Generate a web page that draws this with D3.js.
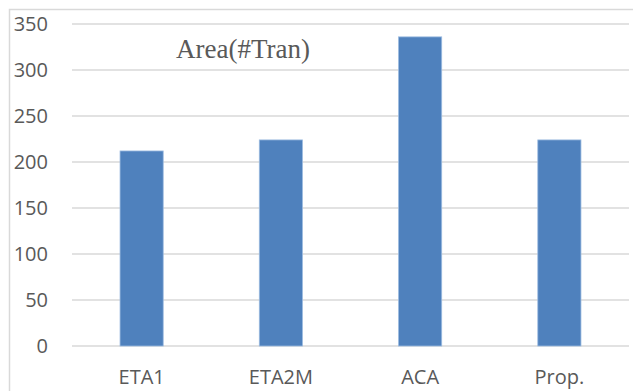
<!DOCTYPE html>
<html>
<head>
<meta charset="utf-8">
<script src="https://cdn.jsdelivr.net/npm/d3@7"></script>
<style>
  body { margin: 0; background: #fff; }
  #display { width: 633px; height: 391px; }
</style>
</head>
<body>
<div id="display"></div>
<script>
var categories = ["ETA1", "ETA2M", "ACA", "Prop."]
var values = [212, 224, 336, 224]
var yTicks = [0, 50, 100, 150, 200, 250, 300, 350]
var title = "Area(#Tran)"

var width = 633, height = 391;
var margin = {left: 72, right: 4, top: 24, bottom: 45};

var svg = d3.select("#display")
    .append("svg")
    .attr("width", width)
    .attr("height", height);

// outer chart frame (cut off at right/bottom)
svg.append("path")
    .attr("d", "M9.5," + (height + 5) + "V9.5H" + (width + 5))
    .attr("fill", "none")
    .attr("stroke", "#d9d9d9")
    .attr("stroke-width", 1.5);

var x = d3.scaleBand()
    .domain(categories)
    .range([margin.left, width - margin.right])
    .paddingInner(0.69)
    .paddingOuter(0.345);

var y = d3.scaleLinear()
    .domain([0, 350])
    .range([height - margin.bottom, margin.top]);

// gridlines
svg.append("g")
    .selectAll("line")
    .data(yTicks)
    .join("line")
      .attr("x1", margin.left)
      .attr("x2", width - margin.right)
      .attr("y1", d => y(d))
      .attr("y2", d => y(d))
      .attr("stroke", "#d9d9d9")
      .attr("stroke-width", 1.5);

// bars
svg.append("g")
    .selectAll("rect")
    .data(values)
    .join("rect")
      .attr("x", (d, i) => x(categories[i]))
      .attr("y", d => y(d))
      .attr("width", x.bandwidth())
      .attr("height", d => y(0) - y(d))
      .attr("fill", "#4f81bd")
      .attr("stroke", "#9bbbe0")
      .attr("stroke-width", 0.8);

// y tick labels
svg.append("g")
    .attr("fill", "#595959")
    .attr("text-anchor", "end")
    .style("font", "20px 'Open Sans'")
    .selectAll("text")
    .data(yTicks)
    .join("text")
      .attr("x", 48)
      .attr("y", d => y(d))
      .attr("dy", "0.35em")
      .text(d => d);

// x labels
svg.append("g")
    .attr("fill", "#595959")
    .attr("text-anchor", "middle")
    .style("font", "20px 'Open Sans'")
    .selectAll("text")
    .data(categories)
    .join("text")
      .attr("x", d => x(d) + x.bandwidth() / 2)
      .attr("y", 384)
      .text(d => d);

svg.append("text")
    .attr("x", 243)
    .attr("y", 58)
    .attr("text-anchor", "middle")
    .attr("fill", "#595959")
    .style("font", "27px 'Liberation Serif'")
    .text(title);
</script>
</body>
</html>
